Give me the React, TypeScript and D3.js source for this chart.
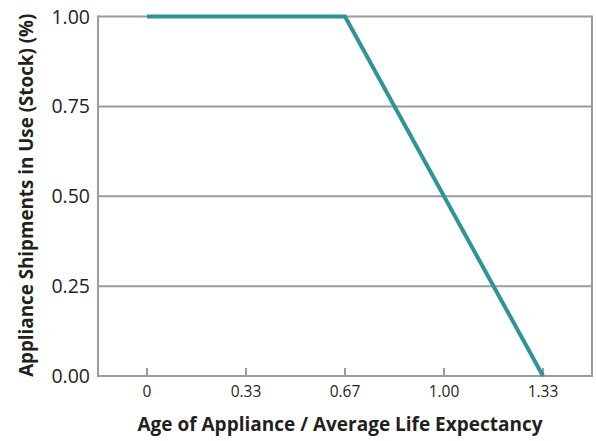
import * as d3 from "d3";

// chart values
const ageValues = [0, 2 / 3, 4 / 3];
const stockValues = [1, 1, 0];
const xTickValues = [0, 1 / 3, 2 / 3, 1, 4 / 3];
const xTickLabels = ["0", "0.33", "0.67", "1.00", "1.33"];
const yTickValues = [0, 0.25, 0.5, 0.75, 1];
const yTickLabels = ["0.00", "0.25", "0.50", "0.75", "1.00"];
const xTitle = "Age of Appliance / Average Life Expectancy";
const yTitle = "Appliance Shipments in Use (Stock) (%)";

export default function App() {
  const width = 596;
  const height = 441;
  const left = 98;
  const right = 592;
  const top = 16.5;
  const bottom = 376;
  const pad = 49; // space between frame and first/last x tick
  const font = "'Open Sans', 'Noto Sans', sans-serif";
  const gray = "#9b9b9b";
  const ink = "#231f20";

  const x = d3.scaleLinear().domain([0, 4 / 3]).range([left + pad, right - pad]);
  const y = d3.scaleLinear().domain([0, 1]).range([bottom, top]);

  const line = d3
    .line<number>()
    .x((d, i) => x(ageValues[i]))
    .y((d) => y(d));

  return (
    <svg
      width={width}
      height={height}
      style={{ position: "absolute", left: 0, top: 0, background: "#fff" }}
      fontFamily={font}
    >
      {/* horizontal grid lines */}
      {yTickValues.map((v) => (
        <line key={v} x1={left} x2={right} y1={y(v)} y2={y(v)} stroke={gray} strokeWidth={2} />
      ))}
      {/* frame sides */}
      <line x1={left} x2={left} y1={top - 1} y2={bottom + 1} stroke={gray} strokeWidth={2} />
      <line x1={right} x2={right} y1={top - 1} y2={bottom + 1} stroke={gray} strokeWidth={2} />
      {/* x ticks */}
      {xTickValues.map((v, i) => (
        <g key={i}>
          <line x1={x(v)} x2={x(v)} y1={bottom} y2={bottom - 8} stroke={gray} strokeWidth={2} />
          <text x={x(v)} y={397} textAnchor="middle" fontSize={15.5} fill={ink}>
            {xTickLabels[i]}
          </text>
        </g>
      ))}
      {/* y tick labels */}
      {yTickValues.map((v, i) => (
        <text key={v} x={90} y={y(v) + 7} textAnchor="end" fontSize={19.5} fill={ink}>
          {yTickLabels[i]}
        </text>
      ))}
      {/* data line */}
      <path
        d={line(stockValues) ?? ""}
        fill="none"
        stroke="#2f9497"
        strokeWidth={4}
        strokeLinejoin="miter"
      />
      {/* axis titles */}
      <text x={340} y={431} textAnchor="middle" fontSize={19} fontWeight="bold" fill={ink}>
        {xTitle}
      </text>
      <text
        transform={`translate(33,${(top + bottom) / 2 - 1}) rotate(-90)`}
        textAnchor="middle"
        fontSize={18.8}
        fontWeight="bold"
        fill={ink}
      >
        {yTitle}
      </text>
    </svg>
  );
}
